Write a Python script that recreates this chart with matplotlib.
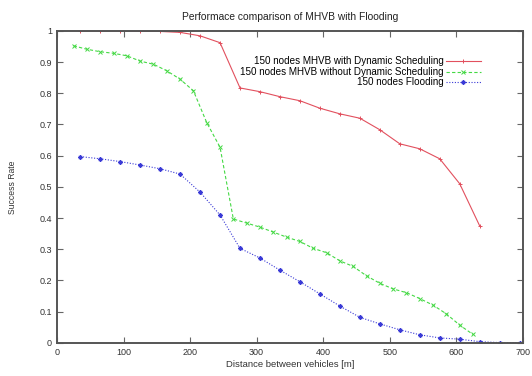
import numpy as np
import matplotlib
matplotlib.use('Agg')
import matplotlib.pyplot as plt

plt.rcParams['font.family'] = ['Liberation Sans', 'DejaVu Sans']

# 150 nodes MHVB with Dynamic Scheduling
dyn_x = [35, 65, 95, 125, 155, 185, 215, 245, 275, 305, 335, 365, 395, 425,
         455, 485, 515, 545, 575, 605, 635]
dyn_y = [1.0, 1.0, 1.0, 0.999, 0.998, 0.995, 0.984, 0.962, 0.817, 0.805, 0.789,
         0.776, 0.752, 0.734, 0.720, 0.683, 0.638, 0.622, 0.590, 0.510, 0.375]

# 150 nodes MHVB without Dynamic Scheduling
nodyn_x = [25, 45, 65, 85, 105, 125, 145, 165, 185, 205, 225, 245, 265, 285,
           305, 325, 345, 365, 385, 405, 425, 445, 465, 485, 505, 525, 545,
           565, 585, 605, 625]
nodyn_y = [0.952, 0.941, 0.933, 0.928, 0.920, 0.903, 0.893, 0.872, 0.845,
           0.808, 0.706, 0.627, 0.397, 0.384, 0.371, 0.355, 0.339, 0.325,
           0.303, 0.289, 0.263, 0.245, 0.215, 0.191, 0.173, 0.161, 0.142,
           0.121, 0.093, 0.057, 0.027]

# 150 nodes Flooding
flood_x = [35, 65, 95, 125, 155, 185, 215, 245, 275, 305, 335, 365, 395, 425,
           455, 485, 515, 545, 575, 605, 635, 665, 695]
flood_y = [0.597, 0.590, 0.581, 0.570, 0.558, 0.541, 0.483, 0.410, 0.303,
           0.272, 0.233, 0.196, 0.157, 0.118, 0.082, 0.061, 0.042, 0.026,
           0.016, 0.012, 0.004, 0.001, 0.001]

fig = plt.figure(figsize=(5.32, 3.76), dpi=100)
ax = fig.add_axes([0.107, 0.088, 0.876, 0.830])

ax.plot(dyn_x, dyn_y, color='#e2505e', lw=0.8, ls='-', marker='+', ms=3.5,
        mew=0.7, label='150 nodes MHVB with Dynamic Scheduling')
ax.plot(nodyn_x, nodyn_y, color='#44d944', lw=0.8, ls=(0, (3, 2)), marker='x',
        ms=3, mew=0.7, label='150 nodes MHVB without Dynamic Scheduling')
ax.plot(flood_x, flood_y, color='#3a3ad6', lw=0.8, ls=(0, (1, 1.5)),
        marker=(8, 2, 0), ms=3.3, mew=0.7,
        label='150 nodes Flooding')

ax.set_xlim(0, 700)
ax.set_ylim(0, 1)
ax.set_xticks(np.arange(0, 701, 100))
ax.set_yticks(np.arange(0, 1.01, 0.1))
ax.set_yticklabels(['0', '0.1', '0.2', '0.3', '0.4', '0.5', '0.6', '0.7',
                    '0.8', '0.9', '1'])
ax.tick_params(direction='in', length=4, width=0.8, color='#666666',
               labelsize=6.5, top=True, right=True, labelcolor='#333333')
for s in ax.spines.values():
    s.set_color('#555555')
    s.set_linewidth(1.4)

ax.set_title('Performace comparison of MHVB with Flooding', fontsize=7.4,
             color='#222222', pad=8)
ax.set_xlabel('Distance between vehicles [m]', fontsize=6.8, color='#333333',
              labelpad=2)
ax.set_ylabel('Success Rate', fontsize=6.2, color='#333333', labelpad=16)

leg = ax.legend(loc='upper right', bbox_to_anchor=(0.925, 0.94), frameon=False,
                markerfirst=False, fontsize=7.1, handlelength=3.6,
                handletextpad=0.2, labelspacing=0.05, borderpad=0.2)
for col in leg._legend_handle_box.get_children():
    col.align = 'right'

fig.savefig('out.png', dpi=100)
